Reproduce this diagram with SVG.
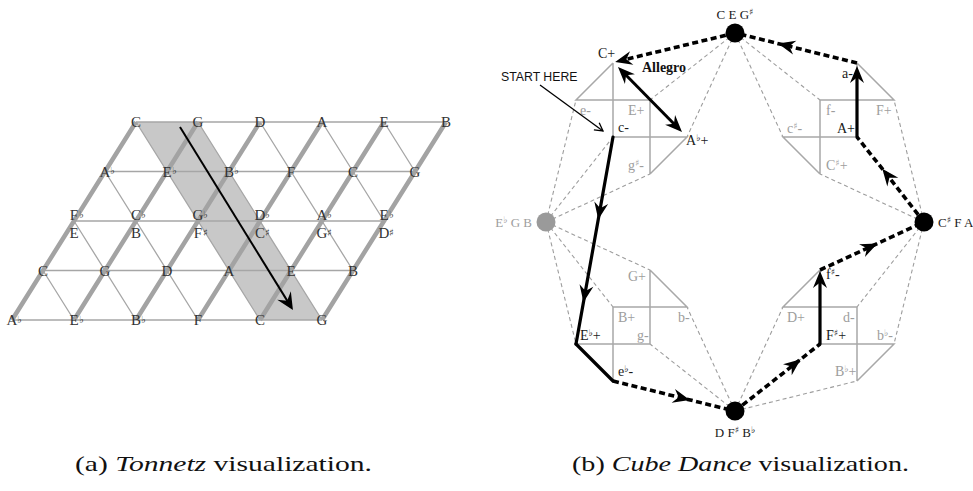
<svg xmlns="http://www.w3.org/2000/svg" width="973" height="491" viewBox="0 0 973 491">
<style>
.bg{fill:#fff}
.hl{stroke:#a6a6a6;stroke-width:1.4;fill:none}
.tk{stroke:#a3a3a3;stroke-width:4.5;fill:none;stroke-linecap:butt}
.tn{stroke:#a6a6a6;stroke-width:1.3;fill:none}
.tl{font-family:"Liberation Serif",serif;font-size:15px;fill:#333;text-anchor:middle}
.ac{font-family:"DejaVu Sans",sans-serif;font-size:10px;fill:#333}
.cube{stroke:#a8a8a8;stroke-width:1.5;fill:none}
.cl{font-family:"Liberation Serif",serif;font-size:14px}
.sm{font-family:"DejaVu Sans",sans-serif;font-size:9px}
.blk{fill:#1a1a1a}
.gry{fill:#9d9d9d}
.dash{stroke:#9d9d9d;stroke-width:1.1;stroke-dasharray:4 3;fill:none}
.pd{stroke:#000;stroke-width:3.6;stroke-dasharray:6 3.5;fill:none}
.ps{stroke:#000;stroke-width:3.2;fill:none;stroke-linecap:round}
.al{font-family:"Liberation Serif",serif;font-size:13px}
.mid{text-anchor:middle}
.st{text-anchor:start}
.en{text-anchor:end}
.cap{font-family:"Liberation Serif",serif;font-size:21px;fill:#111}
</style>
<defs>
<marker id="ah" viewBox="-13 -8 20 16" refX="0" refY="0" markerWidth="20" markerHeight="16" markerUnits="userSpaceOnUse" orient="auto">
<path d="M6,0 L-11,-7 L-5.5,0 L-11,7 Z" fill="#000"/>
</marker>
<marker id="ah2" viewBox="-13 -8 20 16" refX="0" refY="0" markerWidth="20" markerHeight="16" markerUnits="userSpaceOnUse" orient="auto-start-reverse">
<path d="M6,0 L-11,-7 L-5.5,0 L-11,7 Z" fill="#000"/>
</marker>
<marker id="ahT" viewBox="-14 -10 22 20" refX="0" refY="0" markerWidth="22" markerHeight="20" markerUnits="userSpaceOnUse" orient="auto">
<path d="M6,0 L-11,-8 L-5,0 L-11,8 Z" fill="#000"/>
</marker>
<marker id="av" viewBox="-10 -6 12 12" refX="0" refY="0" markerWidth="12" markerHeight="12" markerUnits="userSpaceOnUse" orient="auto">
<path d="M-8,-4.5 L0,0 L-8,4.5" fill="none" stroke="#000" stroke-width="1.3"/>
</marker>
</defs>
<rect class="bg" x="0" y="0" width="973" height="491"/>

<!-- ===== (a) Tonnetz ===== -->
<g id="tonnetz-grid">
<polygon points="136,122 198,122 322,320 260,320" fill="#c8c8c8"/>
<path class="hl" d="M136,122 H446 M105,171.5 H415 M74,221 H384 M43,270.5 H353 M12,320 H322"/>
<path class="tn" d="M43,270.5 L74,320 M74,221 L136,320 M105,171.5 L198,320 M136,122 L260,320 M198,122 L322,320 M260,122 L353,270.5 M322,122 L384,221 M384,122 L415,171.5"/>
<path class="tk" d="M136,122 L12,320 M198,122 L74,320 M260,122 L136,320 M322,122 L198,320 M384,122 L260,320 M446,122 L322,320"/>
</g>
<g id="tonnetz-nodes">
<g id="t00"><text class="tl" x="136" y="127">C</text></g>
<g id="t01"><text class="tl" x="198" y="127">G</text></g>
<g id="t02"><text class="tl" x="260" y="127">D</text></g>
<g id="t03"><text class="tl" x="322" y="127">A</text></g>
<g id="t04"><text class="tl" x="384" y="127">E</text></g>
<g id="t05"><text class="tl" x="446" y="127">B</text></g>

<g id="t10"><text class="tl" x="105" y="176.5">A</text><text class="ac" x="110" y="174">♭</text></g>
<g id="t11"><text class="tl" x="167" y="176.5">E</text><text class="ac" x="172" y="174">♭</text></g>
<g id="t12"><text class="tl" x="229" y="176.5">B</text><text class="ac" x="234" y="174">♭</text></g>
<g id="t13"><text class="tl" x="291" y="176.5">F</text></g>
<g id="t14"><text class="tl" x="353" y="176.5">C</text></g>
<g id="t15"><text class="tl" x="415" y="176.5">G</text></g>

<g id="t20"><text class="tl" x="74" y="220">F</text><text class="ac" x="79" y="217.5">♭</text><text class="tl" x="74" y="238">E</text></g>
<g id="t21"><text class="tl" x="136" y="220">C</text><text class="ac" x="141" y="217.5">♭</text><text class="tl" x="136" y="238">B</text></g>
<g id="t22"><text class="tl" x="198" y="220">G</text><text class="ac" x="203" y="217.5">♭</text><text class="tl" x="198" y="238">F</text><text class="ac" x="203" y="235.5">♯</text></g>
<g id="t23"><text class="tl" x="260" y="220">D</text><text class="ac" x="265" y="217.5">♭</text><text class="tl" x="260" y="238">C</text><text class="ac" x="265" y="235.5">♯</text></g>
<g id="t24"><text class="tl" x="322" y="220">A</text><text class="ac" x="327" y="217.5">♭</text><text class="tl" x="322" y="238">G</text><text class="ac" x="327" y="235.5">♯</text></g>
<g id="t25"><text class="tl" x="384" y="220">E</text><text class="ac" x="389" y="217.5">♭</text><text class="tl" x="384" y="238">D</text><text class="ac" x="389" y="235.5">♯</text></g>

<g id="t30"><text class="tl" x="43" y="275.5">C</text></g>
<g id="t31"><text class="tl" x="105" y="275.5">G</text></g>
<g id="t32"><text class="tl" x="167" y="275.5">D</text></g>
<g id="t33"><text class="tl" x="229" y="275.5">A</text></g>
<g id="t34"><text class="tl" x="291" y="275.5">E</text></g>
<g id="t35"><text class="tl" x="353" y="275.5">B</text></g>

<g id="t40"><text class="tl" x="12" y="325">A</text><text class="ac" x="17" y="322.5">♭</text></g>
<g id="t41"><text class="tl" x="74" y="325">E</text><text class="ac" x="79" y="322.5">♭</text></g>
<g id="t42"><text class="tl" x="136" y="325">B</text><text class="ac" x="141" y="322.5">♭</text></g>
<g id="t43"><text class="tl" x="198" y="325">F</text></g>
<g id="t44"><text class="tl" x="260" y="325">C</text></g>
<g id="t45"><text class="tl" x="322" y="325">G</text></g>
</g>
<g id="tonnetz-connectors">
<path d="M180,127 L289.8,304.9" stroke="#000" stroke-width="2" fill="none" marker-end="url(#ahT)"/>
</g>

<!-- ===== (b) Cube Dance ===== -->
<g id="cube-connectors">
<path class="dash" d="M735,33 L650,100 M735,33 L687,137 M735,33 L820,100 M735,33 L783,137"/>
<path class="dash" d="M546,222 L576,100 M546,222 L613,137 M546,222 L650,174 M546,222 L650,270 M546,222 L613,307 M546,222 L576,344"/>
<path class="dash" d="M735,411 L687,307 M735,411 L650,344 M735,411 L783,307 M735,411 L857,381"/>
<path class="dash" d="M924,222 L894,100 M924,222 L820,174 M924,222 L857,307 M924,222 L894,344"/>
</g>

<g id="cube-tl">
<path class="cube" d="M613,63 L576,100 H650 V174 M613,63 V137 H687 L650,174"/>
<g id="tri-Cp"><text class="cl blk" x="598" y="58">C+</text></g>
<g id="tri-em"><text class="cl gry" x="580" y="115">e-</text></g>
<g id="tri-Ep"><text class="cl gry" x="628" y="115">E+</text></g>
<g id="tri-cm"><text class="cl blk" x="618" y="132">c-</text></g>
<g id="tri-Abp"><text class="cl blk" x="686" y="145">A<tspan class="sm" dy="-4">♭</tspan><tspan dy="4">+</tspan></text></g>
<g id="tri-gsm"><text class="cl gry" x="628" y="170">g<tspan class="sm" dy="-4">♯</tspan><tspan dy="4">-</tspan></text></g>
</g>

<g id="cube-tr">
<path class="cube" d="M857,63 L894,100 H820 V174 M857,63 V137 H783 L820,174"/>
<g id="tri-am"><text class="cl blk" x="842" y="78">a-</text></g>
<g id="tri-fm"><text class="cl gry" x="826" y="115">f-</text></g>
<g id="tri-Fp"><text class="cl gry" x="876" y="115">F+</text></g>
<g id="tri-Ap"><text class="cl blk" x="837" y="133">A+</text></g>
<g id="tri-csm"><text class="cl gry" x="787" y="133">c<tspan class="sm" dy="-4">♯</tspan><tspan dy="4">-</tspan></text></g>
<g id="tri-Csp"><text class="cl gry" x="826" y="170">C<tspan class="sm" dy="-4">♯</tspan><tspan dy="4">+</tspan></text></g>
</g>

<g id="cube-bl">
<path class="cube" d="M650,270 L687,307 H613 V381 M650,270 V344 H576 L613,381"/>
<g id="tri-Gp"><text class="cl gry" x="628" y="281">G+</text></g>
<g id="tri-Bp"><text class="cl gry" x="618" y="322">B+</text></g>
<g id="tri-bm"><text class="cl gry" x="678" y="322">b-</text></g>
<g id="tri-Ebp"><text class="cl blk" x="580" y="340">E<tspan class="sm" dy="-4">♭</tspan><tspan dy="4">+</tspan></text></g>
<g id="tri-gm"><text class="cl gry" x="637" y="340">g-</text></g>
<g id="tri-ebm"><text class="cl blk" x="618" y="376">e<tspan class="sm" dy="-4">♭</tspan><tspan dy="4">-</tspan></text></g>
</g>

<g id="cube-br">
<path class="cube" d="M820,270 L783,307 H857 V381 M820,270 V344 H894 L857,381"/>
<g id="tri-fsm"><text class="cl blk" x="826" y="279">f<tspan class="sm" dy="-4">♯</tspan><tspan dy="4">-</tspan></text></g>
<g id="tri-Dp"><text class="cl gry" x="787" y="322">D+</text></g>
<g id="tri-dm"><text class="cl gry" x="843" y="322">d-</text></g>
<g id="tri-Fsp"><text class="cl blk" x="826" y="340">F<tspan class="sm" dy="-4">♯</tspan><tspan dy="4">+</tspan></text></g>
<g id="tri-bbm"><text class="cl gry" x="877" y="340">b<tspan class="sm" dy="-4">♭</tspan><tspan dy="4">-</tspan></text></g>
<g id="tri-Bbp"><text class="cl gry" x="835" y="376">B<tspan class="sm" dy="-4">♭</tspan><tspan dy="4">+</tspan></text></g>
</g>

<g id="path-connectors">
<path class="ps" d="M613,137 L599.3,213.6 L584.5,296.4 L576,344" marker-mid="url(#ah)"/>
<path class="ps" d="M576,344 L613,381"/>
<path class="pd" d="M613,381 L684,398.5 L735,411" marker-mid="url(#ah)"/>
<path class="pd" d="M735,411 L796,363 L820,344" marker-mid="url(#ah)"/>
<path class="ps" d="M820,344 L820,277" marker-end="url(#ah)"/>
<path class="pd" d="M820,270 L872,246 L924,222" marker-mid="url(#ah)"/>
<path class="pd" d="M924,222 L886,173.5 L857,137" marker-mid="url(#ah)"/>
<path class="ps" d="M857,137 L857,72" marker-end="url(#ah)"/>
<path class="pd" d="M857,63 L784,45 L735,33" marker-mid="url(#ah)"/>
<path class="pd" d="M735,33 L621,60.6" marker-end="url(#ah)"/>
<path d="M622.2,71.3 L677.8,127.7" stroke="#000" stroke-width="3" fill="none" marker-start="url(#ah2)" marker-end="url(#ah2)"/>
<path d="M540,85 L603,131" stroke="#000" stroke-width="1.3" fill="none" marker-end="url(#av)"/>
</g>

<g id="aug-top"><circle cx="735" cy="33" r="9.5" fill="#000"/><text class="al blk mid" x="735" y="19">C E G<tspan class="sm" dy="-4">♯</tspan></text></g>
<g id="aug-right"><circle cx="924" cy="222" r="9.5" fill="#000"/><text class="al blk st" x="938" y="227">C<tspan class="sm" dy="-4">♯</tspan><tspan dy="4"> F A</tspan></text></g>
<g id="aug-bottom"><circle cx="735" cy="411" r="9.5" fill="#000"/><text class="al blk mid" x="735" y="437">D F<tspan class="sm" dy="-4">♯</tspan><tspan dy="4"> B</tspan><tspan class="sm" dy="-4">♭</tspan></text></g>
<g id="aug-left"><circle cx="546" cy="222" r="9.5" fill="#9a9a9a"/><text class="al gry en" x="532" y="227">E<tspan class="sm" dy="-4">♭</tspan><tspan dy="4"> G B</tspan></text></g>

<g id="annotations">
<text x="501" y="81" font-family="'Liberation Sans',sans-serif" font-size="12.3" fill="#111">START HERE</text>
<text x="642" y="72" font-family="'Liberation Serif',serif" font-size="14" font-weight="bold" fill="#111">Allegro</text>
</g>

<g id="captions">
<text class="cap" x="75" y="471" textLength="297" lengthAdjust="spacingAndGlyphs">(a)  <tspan font-style="italic">Tonnetz</tspan> visualization.</text>
<text class="cap" x="572" y="471" textLength="337" lengthAdjust="spacingAndGlyphs">(b)  <tspan font-style="italic">Cube Dance</tspan> visualization.</text>
</g>
</svg>
